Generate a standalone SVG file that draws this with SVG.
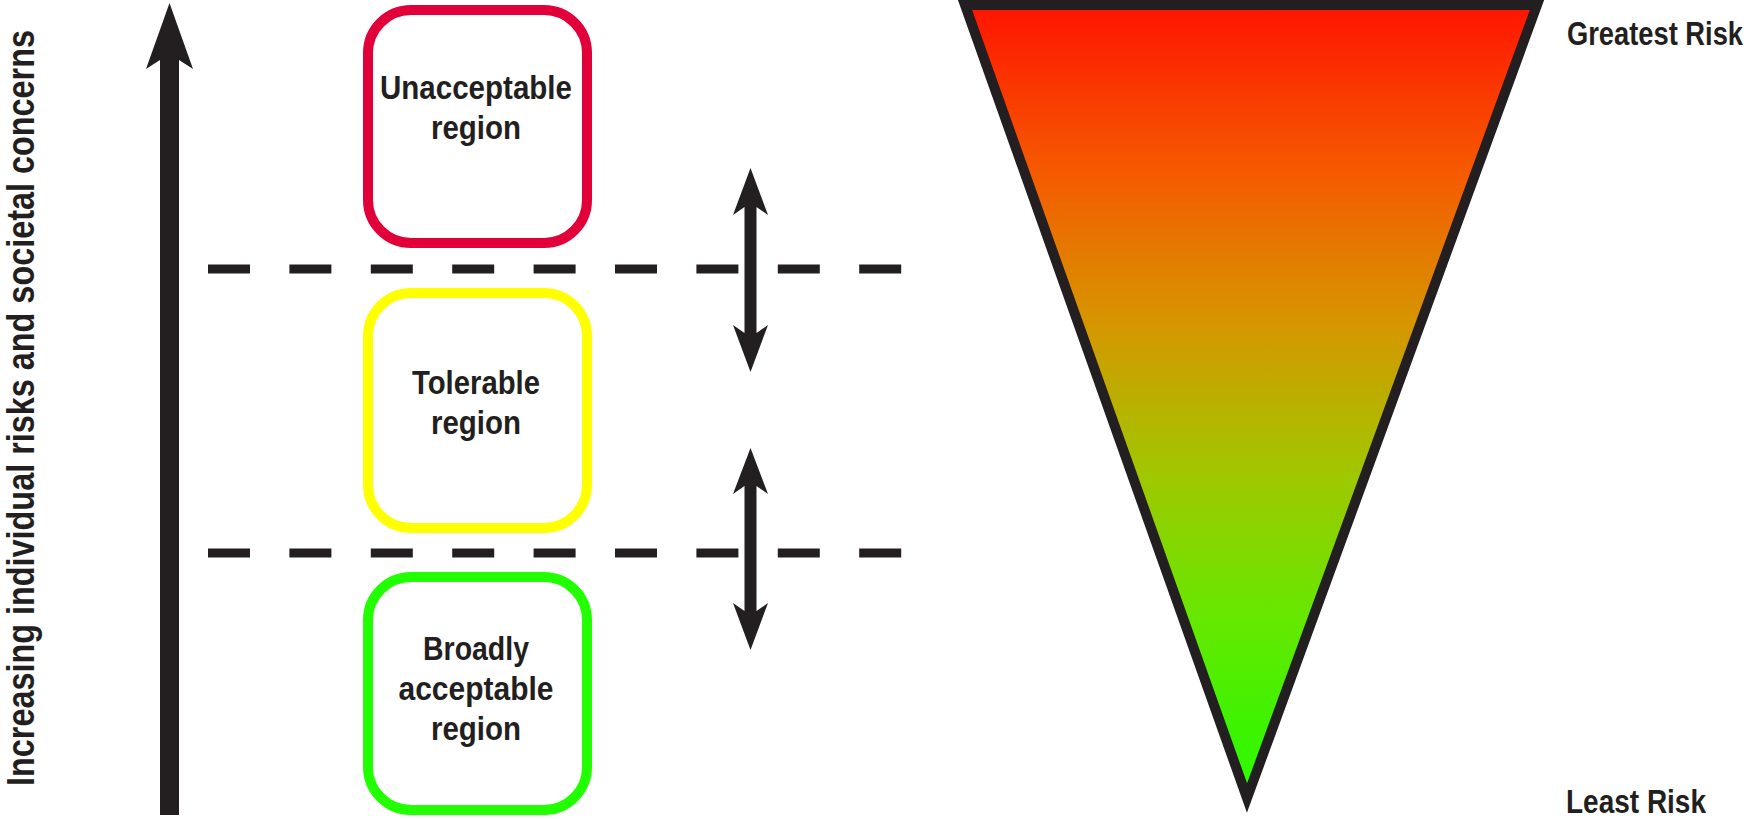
<svg xmlns="http://www.w3.org/2000/svg" width="1751" height="819" viewBox="0 0 1751 819">
<style>
.lbl{font-family:"Liberation Sans Narrow","Liberation Sans",Arial,sans-serif;font-weight:bold;font-size:33px;fill:#231f20;text-anchor:middle}
.box{fill:#fff;stroke-width:10}
.dash{stroke:#231f20;stroke-width:9;stroke-dasharray:42 39.4;fill:none}
.ink{fill:#231f20}
</style>
<defs>
<linearGradient id="risk" x1="0" y1="5" x2="0" y2="800" gradientUnits="userSpaceOnUse">
<stop offset="0" stop-color="#ff1400"/>
<stop offset="0.21" stop-color="#f55a00"/>
<stop offset="0.40" stop-color="#d69600"/>
<stop offset="0.585" stop-color="#a2c600"/>
<stop offset="0.77" stop-color="#66e800"/>
<stop offset="0.92" stop-color="#3af400"/>
<stop offset="1" stop-color="#2cff00"/>
</linearGradient>
</defs>
<rect width="1751" height="819" fill="#fff"/>
<g id="axis-label">
<text class="lbl" transform="translate(34,408) rotate(-90)" style="font-size:38px" textLength="756" lengthAdjust="spacingAndGlyphs">Increasing individual risks and societal concerns</text>
</g>
<g id="connectors">
<path class="ink" d="M160,815 V60 L146,69 L169.5,3 L193,69 L179,60 V815 Z"/>
<line class="dash" x1="208" y1="269" x2="902" y2="269"/>
<line class="dash" x1="208" y1="553" x2="902" y2="553"/>
<path class="ink" d="M744.5,207 L733,215 L750.5,168 L768,215 L756.5,207 V333 L768,325 L750.5,372 L733,325 L744.5,333 Z"/>
<path class="ink" d="M744.5,486 L733,494 L750.5,448 L768,494 L756.5,486 V611 L768,603 L750.5,650 L733,603 L744.5,611 Z"/>
</g>
<g id="unacceptable">
<rect class="box" x="368" y="10" width="219" height="233" rx="43" stroke="#e2003a"/>
<text class="lbl" x="476" y="99" textLength="192" lengthAdjust="spacingAndGlyphs">Unacceptable</text>
<text class="lbl" x="476" y="139" textLength="90" lengthAdjust="spacingAndGlyphs">region</text>
</g>
<g id="tolerable">
<rect class="box" x="368" y="293" width="219" height="235" rx="43" stroke="#ffff00"/>
<text class="lbl" x="476" y="394" textLength="128" lengthAdjust="spacingAndGlyphs">Tolerable</text>
<text class="lbl" x="476" y="434" textLength="90" lengthAdjust="spacingAndGlyphs">region</text>
</g>
<g id="broadly">
<rect class="box" x="368" y="577" width="219" height="233" rx="43" stroke="#22ff00"/>
<text class="lbl" x="476" y="660" textLength="106" lengthAdjust="spacingAndGlyphs">Broadly</text>
<text class="lbl" x="476" y="700" textLength="155" lengthAdjust="spacingAndGlyphs">acceptable</text>
<text class="lbl" x="476" y="740" textLength="90" lengthAdjust="spacingAndGlyphs">region</text>
</g>
<g id="risk-triangle">
<polygon points="965,5 1537,5 1247,798" fill="url(#risk)" stroke="#231f20" stroke-width="10" stroke-linejoin="miter" stroke-miterlimit="10"/>
</g>
<g id="greatest-risk">
<text class="lbl" x="1655" y="45" textLength="176" lengthAdjust="spacingAndGlyphs">Greatest Risk</text>
</g>
<g id="least-risk">
<text class="lbl" x="1636" y="813" textLength="140" lengthAdjust="spacingAndGlyphs">Least Risk</text>
</g>
</svg>
